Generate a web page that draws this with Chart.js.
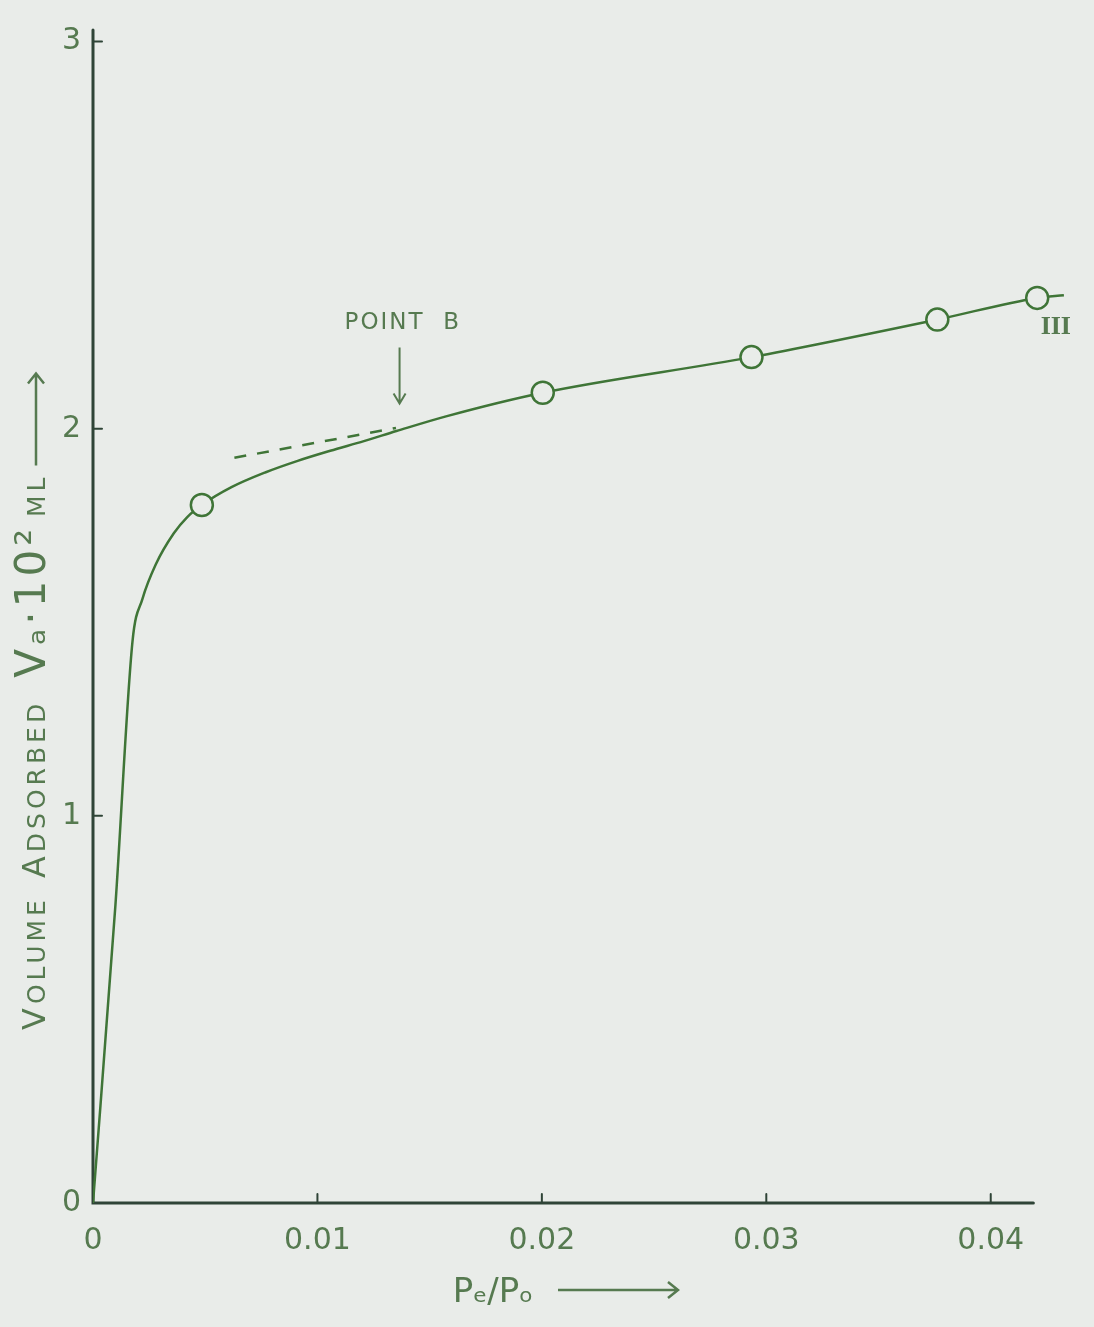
<!DOCTYPE html>
<html>
<head>
<meta charset="utf-8">
<script src="https://cdn.jsdelivr.net/npm/chart.js@4.4.0/dist/chart.umd.min.js"></script>
<style>
  html, body { margin: 0; padding: 0; background: #e9ece9; }
  #wrap { width: 1094px; height: 1327px; position: relative; }
</style>
</head>
<body>
<div id="wrap"><canvas id="chart"></canvas></div>
<script>
// Isotherm III, values
const curveX = [0, 0.001, 0.00176, 0.0022, 0.0028, 0.0036, 0.0042, 0.00485, 0.00617, 0.00767, 0.00912, 0.01057, 0.01207, 0.01352, 0.01573, 0.02004, 0.02934, 0.03762, 0.04207, 0.04326];
const curveY = [0, 0.77, 1.451, 1.56, 1.65, 1.73, 1.772, 1.803, 1.849, 1.887, 1.917, 1.943, 1.968, 1.994, 2.032, 2.093, 2.185, 2.282, 2.338, 2.345];
const pointX = [0.00485, 0.02004, 0.02934, 0.03762, 0.04207];
const pointY = [1.803, 2.093, 2.185, 2.282, 2.338];
const dashX = [0.0063, 0.0135];
const dashY = [1.925, 2.002];
const xTicks = [0, 0.01, 0.02, 0.03, 0.04];
const xTickLabels = ['0', '0.01', '0.02', '0.03', '0.04'];
const yTicks = [0, 1, 2, 3];
const yTickLabels = ['0', '1', '2', '3'];

const PAPER = '#e9ece9';
const LINE = '#3f7537';
const AXIS = '#2f4437';
const INK = '#567a50';

const toXY = (xs, ys) => xs.map((x, i) => ({ x: x, y: ys[i] }));

// axes, tick marks, titles and the "Point B" note, all placed through the scales
const paperPlugin = {
    id: 'paper',
    beforeDraw(chart) {
        const ctx = chart.ctx;
        ctx.save();
        ctx.fillStyle = PAPER;
        ctx.fillRect(0, 0, chart.width, chart.height);
        ctx.restore();
    },
    beforeDatasetsDraw(chart) {
        const ctx = chart.ctx;
        const xs = chart.scales.x, ys = chart.scales.y;
        const x0 = xs.getPixelForValue(0), y0 = ys.getPixelForValue(0);
        ctx.save();
        ctx.strokeStyle = AXIS;
        ctx.lineWidth = 3;
        ctx.lineCap = 'round';
        ctx.beginPath();
        ctx.moveTo(x0, ys.getPixelForValue(3.03));
        ctx.lineTo(x0, y0);
        ctx.lineTo(xs.getPixelForValue(0.0419), y0);
        ctx.stroke();
        ctx.lineWidth = 2;
        xTicks.slice(1).forEach(v => {
            const px = xs.getPixelForValue(v);
            ctx.beginPath(); ctx.moveTo(px, y0); ctx.lineTo(px, y0 - 9); ctx.stroke();
        });
        yTicks.slice(1).forEach(v => {
            const py = ys.getPixelForValue(v);
            ctx.beginPath(); ctx.moveTo(x0, py); ctx.lineTo(x0 + 9, py); ctx.stroke();
        });
        ctx.restore();
    },
    afterDatasetsDraw(chart) {
        const ctx = chart.ctx;
        const xs = chart.scales.x, ys = chart.scales.y;
        ctx.save();
        ctx.fillStyle = INK;
        ctx.strokeStyle = INK;

        // Point B label with arrow
        const bx = xs.getPixelForValue(0.01366);
        ctx.font = '23px "DejaVu Sans"';
        ctx.letterSpacing = '2px';
        ctx.textAlign = 'center';
        ctx.textBaseline = 'middle';
        ctx.fillText('POINT  B', xs.getPixelForValue(0.0138), ys.getPixelForValue(2.274));
        ctx.letterSpacing = '0px';
        ctx.lineWidth = 2;
        const top = ys.getPixelForValue(2.21), tip = ys.getPixelForValue(2.065);
        ctx.beginPath();
        ctx.moveTo(bx, top); ctx.lineTo(bx, tip);
        ctx.moveTo(bx - 6, tip - 10); ctx.lineTo(bx, tip); ctx.lineTo(bx + 6, tip - 10);
        ctx.stroke();

        // curve label
        ctx.font = 'bold 26px "Liberation Serif"';
        ctx.fillText('III', xs.getPixelForValue(0.0429), ys.getPixelForValue(2.262));

        // x title
        ctx.font = '34px "DejaVu Sans"';
        ctx.fillText('P\u2091/P\u2092', 493, 1293);
        ctx.lineWidth = 2.5;
        ctx.beginPath();
        ctx.moveTo(558, 1290); ctx.lineTo(678, 1290);
        ctx.moveTo(668, 1282); ctx.lineTo(678, 1290); ctx.lineTo(668, 1298);
        ctx.stroke();

        // y title, rotated, laid out from the bottom up
        ctx.translate(45, 1030);
        ctx.rotate(-Math.PI / 2);
        ctx.textAlign = 'left';
        ctx.textBaseline = 'alphabetic';
        ctx.letterSpacing = '4px';
        let cx = 0;
        const parts = [
            ['V', '32px "DejaVu Sans"', 0], ['OLUME', '25px "DejaVu Sans"', 18],
            ['A', '32px "DejaVu Sans"', 0], ['DSORBED', '25px "DejaVu Sans"', 22],
            ['V\u2090\u00b710\u00b2', '42px "DejaVu Sans"', 8], ['ML', '25px "DejaVu Sans"', 8]
        ];
        parts.forEach(([t, f, gap]) => {
            ctx.font = f;
            ctx.fillText(t, cx, 0);
            cx += ctx.measureText(t).width + gap;
        });
        ctx.beginPath();
        ctx.moveTo(cx, -9); ctx.lineTo(cx + 92, -9);
        ctx.moveTo(cx + 82, -17); ctx.lineTo(cx + 92, -9); ctx.lineTo(cx + 82, -1);
        ctx.stroke();
        ctx.restore();
    }
};

new Chart(document.getElementById('chart').getContext('2d'), {
    type: 'scatter',
    data: {
        datasets: [{
            label: 'circles',
            data: toXY(pointX, pointY),
            showLine: false,
            pointStyle: 'circle',
            pointRadius: 11,
            pointBorderWidth: 2.5,
            pointBorderColor: LINE,
            pointBackgroundColor: PAPER,
            order: 0
        }, {
            label: 'curve',
            data: toXY(curveX, curveY),
            showLine: true,
            borderColor: LINE,
            borderWidth: 2.5,
            pointRadius: 0,
            cubicInterpolationMode: 'monotone',
            order: 1
        }, {
            label: 'extension',
            data: toXY(dashX, dashY),
            showLine: true,
            borderColor: LINE,
            borderWidth: 2.5,
            borderDash: [12, 11],
            pointRadius: 0,
            order: 2
        }]
    },
    options: {
        responsive: true,
        maintainAspectRatio: false,
        animation: false,
        layout: { padding: { left: 0, right: 2, top: 13, bottom: 0 } },
        plugins: {
            legend: { display: false },
            tooltip: { enabled: false }
        },
        scales: {
            x: {
                type: 'linear',
                min: 0,
                max: 0.044,
                grid: { display: false, drawTicks: false },
                border: { display: false },
                afterBuildTicks: (scale) => { scale.ticks = xTicks.map(v => ({ value: v })); },
                afterFit: (scale) => { scale.height = 124; },
                ticks: {
                    padding: 20,
                    maxRotation: 0,
                    color: INK,
                    font: { family: 'DejaVu Sans', size: 30 },
                    callback: (value) => xTickLabels[xTicks.indexOf(value)]
                }
            },
            y: {
                type: 'linear',
                min: 0,
                max: 3.03,
                grid: { display: false, drawTicks: false },
                border: { display: false },
                afterBuildTicks: (scale) => { scale.ticks = yTicks.map(v => ({ value: v })); },
                afterFit: (scale) => { scale.width = 93; },
                ticks: {
                    padding: 12,
                    color: INK,
                    font: { family: 'DejaVu Sans', size: 30 },
                    callback: (value) => yTickLabels[yTicks.indexOf(value)]
                }
            }
        }
    },
    plugins: [paperPlugin]
});
</script>
</body>
</html>
